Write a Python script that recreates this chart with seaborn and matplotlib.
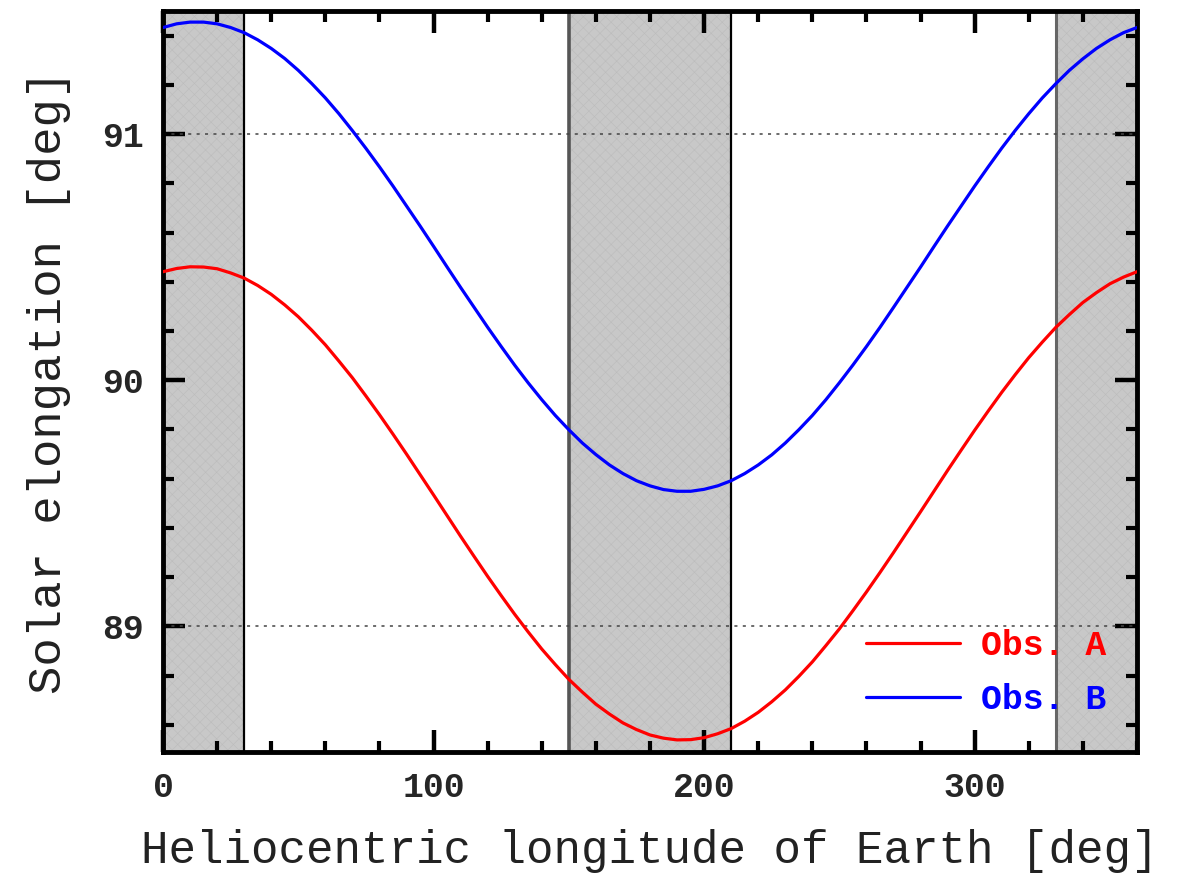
import numpy as np
import pandas as pd
import matplotlib
matplotlib.use("Agg")
import matplotlib.pyplot as plt
from matplotlib.ticker import MultipleLocator
from matplotlib.lines import Line2D
import seaborn as sns

# ---- data ----
longitude = [0, 5, 10, 15, 20, 25, 30, 35, 40, 45, 50, 55, 60, 65, 70, 75, 80, 85, 90, 95,
             100, 105, 110, 115, 120, 125, 130, 135, 140, 145, 150, 155, 160, 165, 170, 175,
             180, 185, 190, 195, 200, 205, 210, 215, 220, 225, 230, 235, 240, 245, 250, 255,
             260, 265, 270, 275, 280, 285, 290, 295, 300, 305, 310, 315, 320, 325, 330, 335,
             340, 345, 350, 355, 360]
obs_a = [90.441, 90.454, 90.461, 90.460, 90.453, 90.436, 90.415, 90.385, 90.349, 90.306,
         90.258, 90.203, 90.144, 90.078, 90.010, 89.936, 89.860, 89.781, 89.700, 89.617,
         89.534, 89.450, 89.366, 89.284, 89.203, 89.125, 89.049, 88.977, 88.908, 88.845,
         88.785, 88.733, 88.684, 88.644, 88.608, 88.581, 88.559, 88.546, 88.539, 88.540,
         88.548, 88.564, 88.585, 88.615, 88.651, 88.694, 88.742, 88.797, 88.856, 88.922,
         88.990, 89.064, 89.140, 89.219, 89.300, 89.383, 89.466, 89.550, 89.634, 89.716,
         89.797, 89.875, 89.951, 90.023, 90.092, 90.155, 90.215, 90.267, 90.316, 90.356,
         90.392, 90.419, 90.441]
obs_b = [91.433, 91.448, 91.455, 91.455, 91.448, 91.433, 91.412, 91.383, 91.348, 91.307,
         91.259, 91.205, 91.147, 91.083, 91.014, 90.942, 90.867, 90.789, 90.708, 90.627,
         90.544, 90.460, 90.377, 90.296, 90.215, 90.137, 90.061, 89.989, 89.921, 89.857,
         89.799, 89.745, 89.698, 89.656, 89.621, 89.592, 89.571, 89.556, 89.549, 89.549,
         89.557, 89.571, 89.592, 89.621, 89.656, 89.697, 89.745, 89.799, 89.857, 89.921,
         89.990, 90.062, 90.137, 90.215, 90.296, 90.378, 90.460, 90.544, 90.627, 90.708,
         90.789, 90.867, 90.943, 91.015, 91.083, 91.147, 91.205, 91.259, 91.306, 91.348,
         91.383, 91.412, 91.433]
series_names = ["Obs. A", "Obs. B"]
series_colors = ["red", "blue"]
shade_spans = [(0, 30), (150, 210), (330, 360)]
ref_levels = [89, 91]
xticks = [0, 100, 200, 300]
yticks = [89, 90, 91]

df = pd.DataFrame({
    "lon": longitude * 2,
    "elong": obs_a + obs_b,
    "obs": [series_names[0]] * len(longitude) + [series_names[1]] * len(longitude),
})

sns.set_style("ticks")
plt.rcParams["font.family"] = ["Liberation Mono", "DejaVu Sans Mono"]
plt.rcParams["hatch.linewidth"] = 0.4

fig = plt.figure(figsize=(11.78, 8.76), dpi=100)
ax = fig.add_axes([0.1384, 0.1416, 0.8268, 0.8458])

# shaded spans
for lo, hi in shade_spans:
    ax.axvspan(lo, hi, facecolor="#c8c8c8", edgecolor="#bcbcbc", hatch="xxx",
               linewidth=0, zorder=0)
# span borders
for xv, col, lw in [(30, "black", 1.6), (150, "#555555", 2.6), (210, "black", 1.6), (330, "#666666", 2.2)]:
    ax.axvline(xv, color=col, lw=lw, zorder=1)

for lv in ref_levels:
    ax.axhline(lv, color="#444444", lw=1.1, ls=(0, (2, 3.5)), zorder=1)

sns.lineplot(data=df, x="lon", y="elong", hue="obs", palette=dict(zip(series_names, series_colors)),
             estimator=None, sort=False, lw=2.3, ax=ax, zorder=3, legend=False)

ax.set_xlim(0, 360)
ax.set_ylim(88.49, 91.5)
ax.set_xticks(xticks)
ax.set_yticks(yticks)
ax.xaxis.set_minor_locator(MultipleLocator(20))
ax.yaxis.set_minor_locator(MultipleLocator(0.2))
ax.tick_params(which="both", direction="in", top=True, right=True, color="black")
ax.tick_params(which="major", length=16, width=3.2, labelsize=25, pad=14)
ax.tick_params(which="minor", length=8, width=3.0)
for lab in ax.get_xticklabels() + ax.get_yticklabels():
    lab.set_fontweight("bold")
for sp in ax.spines.values():
    sp.set_linewidth(3.5)
    sp.set_color("black")

ax.set_xlabel("Heliocentric longitude of Earth [deg]", fontsize=33, color="#222222", labelpad=18)
ax.set_ylabel("Solar elongation [deg]", fontsize=34, color="#222222")
ax.yaxis.set_label_coords(-0.095, 0.5)

handles = [Line2D([], [], color=c, lw=2.3) for c in series_colors]
leg = ax.legend(handles, series_names, loc="upper left", bbox_to_anchor=(0.722, 0.166),
                frameon=False, handlelength=2.7, handletextpad=0.6, labelspacing=0.62,
                borderpad=0, borderaxespad=0,
                prop={"family": "Liberation Mono", "weight": "bold", "size": 25})
for t, c in zip(leg.get_texts(), series_colors):
    t.set_color(c)

fig.savefig("out.png", dpi=100)
